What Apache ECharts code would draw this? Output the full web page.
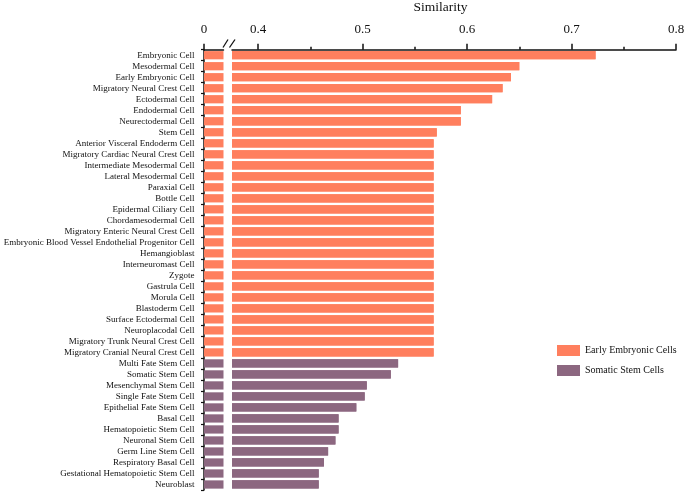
<!DOCTYPE html>
<html><head><meta charset="utf-8">
<script src="https://cdn.jsdelivr.net/npm/echarts@6/dist/echarts.min.js"></script>
<style>html,body{margin:0;padding:0;background:#fff}#c{width:685px;height:492px}</style>
</head><body><div id="c"></div>
<script>
const earlyCategories = [
  'Embryonic Cell','Mesodermal Cell','Early Embryonic Cell','Migratory Neural Crest Cell','Ectodermal Cell',
  'Endodermal Cell','Neurectodermal Cell','Stem Cell','Anterior Visceral Endoderm Cell','Migratory Cardiac Neural Crest Cell',
  'Intermediate Mesodermal Cell','Lateral Mesodermal Cell','Paraxial Cell','Bottle Cell','Epidermal Ciliary Cell',
  'Chordamesodermal Cell','Migratory Enteric Neural Crest Cell','Embryonic Blood Vessel Endothelial Progenitor Cell','Hemangioblast','Interneuromast Cell',
  'Zygote','Gastrula Cell','Morula Cell','Blastoderm Cell','Surface Ectodermal Cell',
  'Neuroplacodal Cell','Migratory Trunk Neural Crest Cell','Migratory Cranial Neural Crest Cell'
];
const earlyValues = [
  0.723,0.650,0.642,0.634,0.624,
  0.594,0.594,0.571,0.568,0.568,
  0.568,0.568,0.568,0.568,0.568,
  0.568,0.568,0.568,0.568,0.568,
  0.568,0.568,0.568,0.568,0.568,
  0.568,0.568,0.568
];
const somaticCategories = [
  'Multi Fate Stem Cell','Somatic Stem Cell','Mesenchymal Stem Cell','Single Fate Stem Cell','Epithelial Fate Stem Cell',
  'Basal Cell','Hematopoietic Stem Cell','Neuronal Stem Cell','Germ Line Stem Cell','Respiratory Basal Cell',
  'Gestational Hematopoietic Stem Cell','Neuroblast'
];
const somaticValues = [
  0.534,0.527,0.504,0.502,0.494,
  0.477,0.477,0.474,0.467,0.463,
  0.458,0.458
];
const groupNames = ['Early Embryonic Cells','Somatic Stem Cells'];
const majorTicks = [0.4,0.5,0.6,0.7,0.8];
const minorTicks = [0.45,0.55,0.65,0.75];
const leftTicks = [0];

const categories = earlyCategories.concat(somaticCategories);
const earlyData = earlyValues.concat(somaticCategories.map(() => '-'));
const somaticData = earlyCategories.map(() => '-').concat(somaticValues);

const COL_E = '#FF7F5E', COL_S = '#8C6780';
const serif = '"Liberation Serif","DejaVu Serif",serif';
const axisLineStyle = { color: '#111', width: 1.5 };

const chart = echarts.init(document.getElementById('c'));
const gridTop = 49.7, gridBottom = 2;
function bars(xi, yi) {
  return [
    { name: groupNames[0], type: 'bar', xAxisIndex: xi, yAxisIndex: yi, data: earlyData,
      itemStyle: { color: COL_E }, barGap: '-100%', barCategoryGap: '25%' },
    { name: groupNames[1], type: 'bar', xAxisIndex: xi, yAxisIndex: yi, data: somaticData,
      itemStyle: { color: COL_S }, barGap: '-100%', barCategoryGap: '25%' }
  ];
}
chart.setOption({
  animation: false,
  grid: [
    { left: 204, width: 19.5, top: gridTop, bottom: gridBottom, containLabel: false, outerBoundsMode: 'none' },
    { left: 232, right: 9, top: gridTop, bottom: gridBottom, containLabel: false, outerBoundsMode: 'none' }
  ],
  xAxis: [
    { gridIndex: 0, type: 'value', min: 0, max: 0.04, position: 'top',
      axisLine: { show: true, lineStyle: axisLineStyle },
      axisTick: { show: true, customValues: leftTicks, length: 6, lineStyle: axisLineStyle },
      axisLabel: { customValues: leftTicks, fontSize: 13, fontFamily: serif, color: '#111', margin: 14 },
      splitLine: { show: false } },
    { gridIndex: 1, type: 'value', min: 0.375, max: 0.8, position: 'top',
      axisLine: { show: true, lineStyle: axisLineStyle },
      axisTick: { show: true, customValues: majorTicks, length: 6, lineStyle: axisLineStyle },
      axisLabel: { customValues: majorTicks, fontSize: 13, fontFamily: serif, color: '#111', margin: 14,
        formatter: v => String(Math.round(v * 10) / 10) },
      splitLine: { show: false } },
    { gridIndex: 1, type: 'value', min: 0.375, max: 0.8, position: 'top',
      axisLine: { show: false },
      axisTick: { show: true, customValues: minorTicks, length: 3, lineStyle: axisLineStyle },
      axisLabel: { show: false },
      splitLine: { show: false } }
  ],
  yAxis: [
    { gridIndex: 0, type: 'category', data: categories, inverse: true, offset: 3.5,
      axisLine: { show: true, lineStyle: axisLineStyle },
      axisTick: { show: true, length: 3, lineStyle: { color: '#111', width: 1.2 } },
      axisLabel: { interval: 0, fontSize: 9, fontFamily: serif, color: '#111', margin: 6 } },
    { gridIndex: 1, type: 'category', data: categories, inverse: true, show: false }
  ],
  legend: {
    data: groupNames, left: 552, top: 340, orient: 'vertical', icon: 'rect',
    itemWidth: 23, itemHeight: 11, itemGap: 9,
    textStyle: { fontSize: 10, fontFamily: serif, color: '#111' }
  },
  graphic: [
    { type: 'text', x: 440.5, y: 7, style: { text: 'Similarity', fontSize: 13.5, fontFamily: serif, fill: '#111', align: 'center', verticalAlign: 'middle' } },
    { type: 'line', shape: { x1: 223, y1: 47.5, x2: 228, y2: 39.5 }, style: { stroke: '#111', lineWidth: 1.3 } },
    { type: 'line', shape: { x1: 229.5, y1: 47.5, x2: 235, y2: 39.5 }, style: { stroke: '#111', lineWidth: 1.3 } }
  ],
  series: bars(0, 0).concat(bars(1, 1), bars(2, 1))
});
</script></body></html>
